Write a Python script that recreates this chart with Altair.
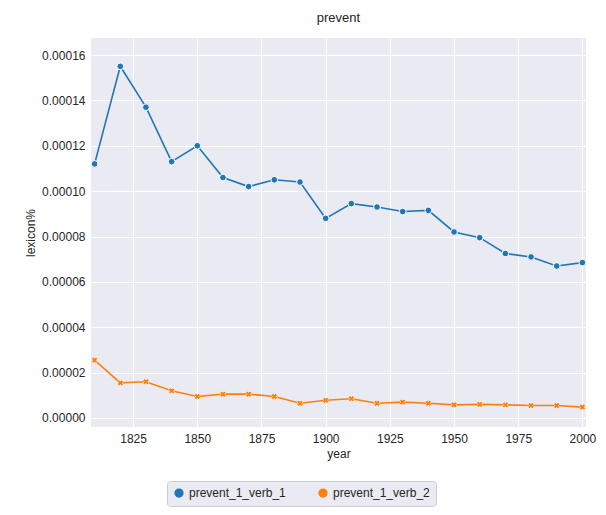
import pandas as pd
import altair as alt

years = list(range(1810, 2001, 10))
verb_1 = [0.000112, 0.000155, 0.000137, 0.000113, 0.000120, 0.000106, 0.000102,
          0.000105, 0.000104, 0.000088, 0.0000945, 0.000093, 0.000091, 0.0000915,
          0.000082, 0.0000795, 0.0000725, 0.000071, 0.000067, 0.0000685]
verb_2 = [0.0000255, 0.0000155, 0.000016, 0.000012, 0.0000095, 0.0000105, 0.0000105,
          0.0000095, 0.0000065, 0.0000078, 0.0000085, 0.0000065, 0.000007, 0.0000065,
          0.0000058, 0.000006, 0.0000058, 0.0000055, 0.0000055, 0.0000048]

df = pd.concat([
    pd.DataFrame({"year": years, "lexicon%": verb_1, "series": "prevent_1_verb_1"}),
    pd.DataFrame({"year": years, "lexicon%": verb_2, "series": "prevent_1_verb_2"}),
])

color = alt.Color(
    "series:N",
    scale=alt.Scale(domain=["prevent_1_verb_1", "prevent_1_verb_2"], range=["#1f77b4", "#ff7f0e"]),
    legend=alt.Legend(
        title=None, orient="none", legendX=76, legendY=443, direction="horizontal", columns=2,
        padding=6, strokeColor="#cccccc", fillColor="#eaeaf2",
        cornerRadius=3, labelFontSize=12, columnPadding=30, symbolSize=60,
        symbolStrokeWidth=1.5,
    ),
)

x = alt.X("year:Q", scale=alt.Scale(domain=[1808.6, 2001.4], nice=False, zero=False),
          axis=alt.Axis(values=list(range(1825, 2001, 25)), format="d", title="year"))
y = alt.Y("lexicon%:Q", scale=alt.Scale(domain=[-0.00000397, 0.0001675], nice=False, zero=False),
          axis=alt.Axis(values=[i * 0.00002 for i in range(9)], format=".5f", title="lexicon%"))

base = alt.Chart(df).encode(x=x, y=y, color=color)
lines = base.mark_line(strokeWidth=1.6)
pts1 = base.transform_filter(alt.datum.series == "prevent_1_verb_1").mark_point(
    shape="circle", filled=True, size=45, stroke="white", strokeWidth=1, opacity=1
)
pts2 = base.transform_filter(alt.datum.series == "prevent_1_verb_2").mark_point(
    shape="cross", angle=45, filled=True, size=40, stroke="white", strokeWidth=0.6, opacity=1
)

chart = (
    alt.layer(lines, pts1, pts2)
    .properties(
        width=495, height=389,
        title=alt.TitleParams("prevent", fontSize=13, fontWeight="normal", offset=13, anchor="middle"),
        autosize=alt.AutoSizeParams(type="none"),
        padding={"left": 83, "top": 30, "right": 12, "bottom": 80},
        background="white",
    )
    .configure_view(fill="#eaeaf2", stroke=None)
    .configure_axis(
        grid=True, gridColor="white", gridWidth=1, domain=False, ticks=False,
        labelFont="Liberation Sans", titleFont="Liberation Sans", labelFontSize=12,
        titleFontSize=12, titleFontWeight="normal", labelColor="#262626", titleColor="#262626",
        labelPadding=6,
    )
    .configure_legend(labelFont="Liberation Sans", labelColor="#262626")
    .configure_title(font="Liberation Sans", color="#262626")
)

chart.save("out.html", embed_options={"renderer": "svg", "actions": False})
